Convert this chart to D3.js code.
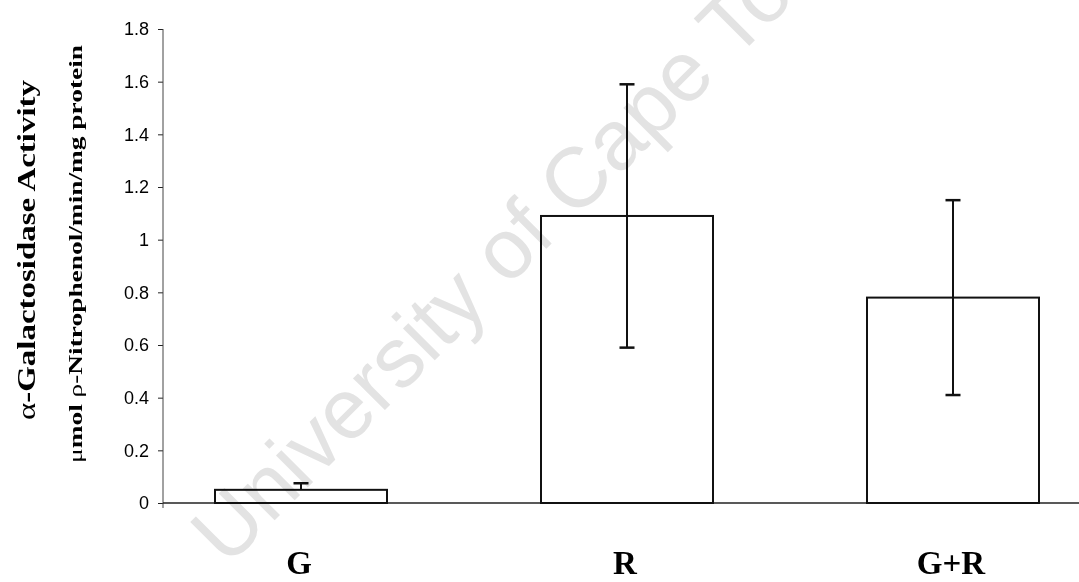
<!DOCTYPE html>
<html>
<head>
<meta charset="utf-8">
<script src="https://cdn.jsdelivr.net/npm/d3@7"></script>
<style>
  body { margin: 0; background: #fff; }
  svg { display: block; }
  .tick text { font-family: "Liberation Sans", Arial, sans-serif; font-size: 18px; fill: #000; }
</style>
</head>
<body>
<svg id="chart" width="1079" height="582"></svg>
<script>
'use strict'
// chart data
var categories = ["G", "R", "G+R"];
var activity = [0.05, 1.09, 0.78];
var errPlus = [0.025, 0.5, 0.37];
var errMinus = [0, 0.5, 0.37];   // lower half of G bar not drawn in original
var yTicks = [0, 0.2, 0.4, 0.6, 0.8, 1, 1.2, 1.4, 1.6, 1.8];
var yTickLabels = ["0", "0.2", "0.4", "0.6", "0.8", "1", "1.2", "1.4", "1.6", "1.8"];

var svg = d3.select("#chart");

var y = d3.scaleLinear().domain([0, 1.8]).range([503, 29]);
var x = d3.scaleBand().domain(categories).range([138, 1116])
	.paddingInner(0.4724).paddingOuter(0.2362);

function mid(i){
	return x(categories[i]) + x.bandwidth() / 2;
}

/* ---------------- axes ---------------- */
var yAxis = d3.axisLeft(y)
	.tickValues(yTicks)
	.tickSize(5)
	.tickPadding(9)
	.tickFormat(function(d, i){ return yTickLabels[i]; });

var gy = svg.append("g").attr("transform", "translate(163,0)").call(yAxis);
gy.select(".domain").remove();
gy.selectAll(".tick line").attr("stroke", "#222");
gy.append("line")
	.attr("x1", 0).attr("x2", 0)
	.attr("y1", y(1.8)).attr("y2", y(0) + 5)
	.attr("stroke", "#444").attr("stroke-width", 1);

// category axis (just a base line)
svg.append("line")
	.attr("x1", 163).attr("x2", 1079)
	.attr("y1", y(0)).attr("y2", y(0))
	.attr("stroke", "#222").attr("stroke-width", 1.3);

/* ---------------- bars ---------------- */
svg.append("g").selectAll("rect")
	.data(activity).enter()
	.append("rect")
	.attr("x", function(d, i){ return x(categories[i]); })
	.attr("y", function(d){ return y(d); })
	.attr("width", x.bandwidth())
	.attr("height", function(d){ return y(0) - y(d); })
	.attr("fill", "#fff")
	.attr("stroke", "#111")
	.attr("stroke-width", 2);

/* ---------------- error bars ---------------- */
var eb = svg.append("g").attr("stroke", "#111");

activity.forEach(function(d, i){
	var cx = mid(i);
	eb.append("line")
		.attr("x1", cx).attr("x2", cx)
		.attr("y1", y(d + errPlus[i])).attr("y2", y(d - errMinus[i]))
		.attr("stroke-width", 2);
	eb.append("line")
		.attr("x1", cx - 7.5).attr("x2", cx + 7.5)
		.attr("y1", y(d + errPlus[i])).attr("y2", y(d + errPlus[i]))
		.attr("stroke-width", 2.5);
	if(errMinus[i] > 0){
		eb.append("line")
			.attr("x1", cx - 7.5).attr("x2", cx + 7.5)
			.attr("y1", y(d - errMinus[i])).attr("y2", y(d - errMinus[i]))
			.attr("stroke-width", 2.5);
	}
});

/* ---------------- category labels ---------------- */
svg.append("g").selectAll("text")
	.data(categories).enter()
	.append("text")
	.attr("x", function(d, i){ return mid(i) - 2; })
	.attr("y", 574)
	.attr("text-anchor", "middle")
	.attr("font-family", "'Liberation Serif', 'Times New Roman', serif")
	.attr("font-weight", "bold")
	.attr("font-size", 33)
	.text(function(d){ return d; });

/* ---------------- y titles ---------------- */
var t1 = svg.append("text")
	.attr("transform", "translate(35,250) rotate(-90)")
	.attr("text-anchor", "middle")
	.attr("font-family", "'Liberation Serif', 'Times New Roman', serif")
	.attr("font-size", 26)
	.attr("textLength", 340)
	.attr("lengthAdjust", "spacingAndGlyphs");
t1.append("tspan").text("\u03b1");
t1.append("tspan").attr("font-weight", "bold").text("-Galactosidase Activity");

var t2 = svg.append("text")
	.attr("transform", "translate(82,254) rotate(-90)")
	.attr("text-anchor", "middle")
	.attr("font-family", "'Liberation Serif', 'Times New Roman', serif")
	.attr("font-size", 19)
	.attr("textLength", 418)
	.attr("lengthAdjust", "spacingAndGlyphs");
t2.append("tspan").text("\u03bc");
t2.append("tspan").attr("font-weight", "bold").text("mol ");
t2.append("tspan").text("\u03c1");
t2.append("tspan").attr("font-weight", "bold").text("-Nitrophenol/min/mg protein");

/* ---------------- watermark ---------------- */
svg.append("text")
	.attr("transform", "translate(227,568) rotate(-45)")
	.attr("font-family", "'Liberation Sans', Arial, sans-serif")
	.attr("font-size", 85)
	.attr("fill", "#e3e3e3")
	.style("mix-blend-mode", "multiply")
	.text("University of Cape Town");
</script>
</body>
</html>
